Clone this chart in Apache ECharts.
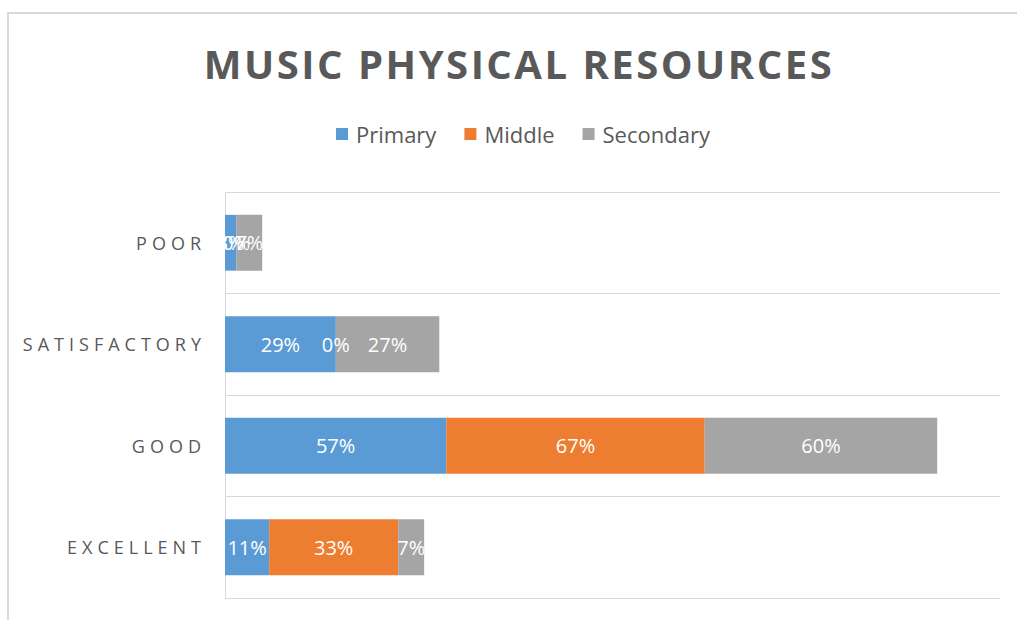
<!DOCTYPE html>
<html>
<head>
<meta charset="utf-8">
<title>Music Physical Resources</title>
<script src="https://cdn.jsdelivr.net/npm/echarts@6/dist/echarts.min.js"></script>
<style>
  html, body { margin: 0; padding: 0; background: #fff; }
  #chart { width: 1017px; height: 620px; }
</style>
</head>
<body>
<div id="chart"></div>
<script>
// categories, bottom to top
const categories = ["EXCELLENT", "GOOD", "SATISFACTORY", "POOR"];
// share of schools in each rating, percent
const primary = [11.4, 57.1, 28.6, 2.9];
const middle = [33.3, 66.7, 0, 0];
const secondary = [6.7, 60, 26.7, 6.7];
const seriesNames = ["Primary", "Middle", "Secondary"];
const colors = ["#5b9bd5", "#ed7d31", "#a5a5a5"];
const titleText = "MUSIC PHYSICAL RESOURCES";

const chart = echarts.init(document.getElementById("chart"), null, { renderer: "svg" });

function makeSeries(name, data, color) {
  return {
    name: name,
    type: "bar",
    stack: "total",
    data: data,
    barWidth: "55%",
    itemStyle: { color: color },
    label: {
      show: true,
      position: "inside",
      color: "#fff",
      fontFamily: "Open Sans",
      fontSize: 20,
      textBorderWidth: 0,
      formatter: (p) => Math.round(p.value) + "%",
    },
  };
}

chart.setOption({
  animation: false,
  backgroundColor: "#fff",
  graphic: [
    {
      type: "rect",
      shape: { x: 8, y: 13, width: 1100, height: 700 },
      style: { fill: "none", stroke: "#d9d9d9", lineWidth: 2 },
      silent: true,
    },
    {
      type: "text",
      x: 519,
      y: 63,
      style: {
        text: titleText,
        fill: "#595959",
        font: "bold 40px 'Open Sans'",
        textAlign: "center",
        textVerticalAlign: "middle",
      },
    },
  ],
  legend: {
    data: seriesNames,
    top: 118,
    left: 331,
    icon: "rect",
    itemWidth: 12,
    itemHeight: 12,
    itemGap: 28,
    textStyle: {
      color: "#595959",
      fontFamily: "Open Sans",
      fontSize: 22,
      padding: [0, 0, 0, 3],
    },
  },
  grid: { left: 225, right: 17, top: 192, bottom: 22, containLabel: false },
  xAxis: {
    type: "value",
    min: 0,
    max: 200,
    axisLabel: { show: false },
    axisLine: { show: false },
    axisTick: { show: false },
    splitLine: { show: false },
  },
  yAxis: {
    type: "category",
    data: categories,
    axisLine: { show: true, lineStyle: { color: "#d9d9d9", width: 1 } },
    axisTick: { show: false },
    splitLine: { show: true, lineStyle: { color: "#d9d9d9", width: 1 } },
    axisLabel: {
      color: "#595959",
      fontFamily: "Open Sans",
      fontSize: 18,
      margin: 19,
      padding: [0, 0, 5, 0],
    },
  },
  series: [
    makeSeries(seriesNames[0], primary, colors[0]),
    makeSeries(seriesNames[1], middle, colors[1]),
    makeSeries(seriesNames[2], secondary, colors[2]),
  ],
});

// spaced capitals for the title and the category names
function spaceLetters() {
  document.querySelectorAll("#chart text").forEach((t) => {
    const s = t.textContent;
    if (s === titleText) t.setAttribute("letter-spacing", "2.5");
    else if (categories.includes(s)) t.setAttribute("letter-spacing", "5");
  });
}
spaceLetters();
chart.on("finished", spaceLetters);
</script>
</body>
</html>
